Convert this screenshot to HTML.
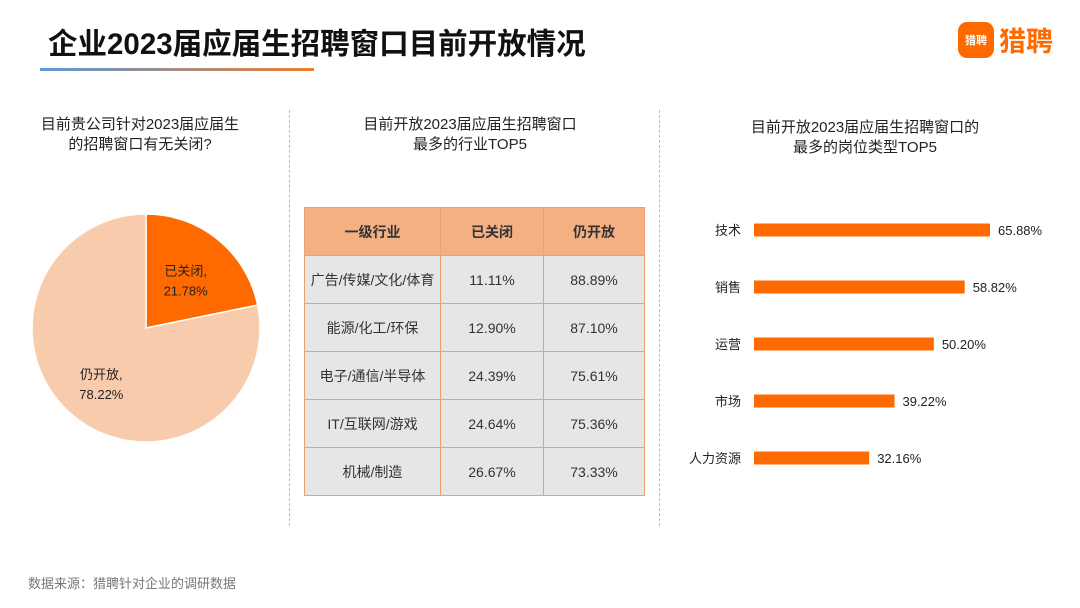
<!DOCTYPE html>
<html><head><meta charset="utf-8"><style>
body{margin:0;background:#fff;font-family:"Liberation Sans","Noto Sans CJK SC",sans-serif;}
#root{position:relative;width:1080px;height:608px;overflow:hidden;}
.abs{position:absolute;}
.sub{position:absolute;text-align:center;font-size:15px;color:#222;line-height:20px;}
table{border-collapse:collapse;position:absolute;left:304px;top:207px;}
td,th{border:1px solid #f0a070;font-size:14px;color:#333;text-align:center;height:47px;padding:0;}
th{background:#f4b083;font-weight:bold;height:47px;}
td{background:#e6e6e6;}
</style></head><body>
<div id="root">
<div class="abs" style="left:48px;top:21px;font-size:29.5px;font-weight:bold;color:#111;">企业2023届应届生招聘窗口目前开放情况</div>
<div class="abs" style="left:40px;top:68px;width:274px;height:3px;background:linear-gradient(90deg,#5b9bd5,#ed7d31);"></div>
<div class="abs" style="left:958px;top:20px;display:flex;align-items:center;">
 <div style="width:36px;height:36px;border-radius:9px;background:#ff6a00;color:#fff;font-size:11px;display:flex;align-items:center;justify-content:center;font-weight:bold;">猎聘</div>
 <span style="color:#ff6a00;font-size:27px;font-weight:bold;margin-left:5px;">猎聘</span></div>
<div class="abs" style="left:289px;top:110px;height:416px;border-left:1px dashed #bbb;"></div>
<div class="abs" style="left:659px;top:110px;height:416px;border-left:1px dashed #bbb;"></div>
<div class="sub" style="left:10px;top:115px;width:260px;">目前贵公司针对2023届应届生<br>的招聘窗口有无关闭?</div>
<div class="sub" style="left:320px;top:115px;width:300px;">目前开放2023届应届生招聘窗口<br>最多的行业TOP5</div>
<div class="sub" style="left:700px;top:118px;width:330px;">目前开放2023届应届生招聘窗口的<br>最多的岗位类型TOP5</div>
<svg id="pie" class="abs" style="left:0;top:0" width="300" height="460"></svg>
<table>
<tr><th style="width:135px">一级行业</th><th style="width:102px">已关闭</th><th style="width:100px">仍开放</th></tr>
<tr><td>广告/传媒/文化/体育</td><td>11.11%</td><td>88.89%</td></tr>
<tr><td>能源/化工/环保</td><td>12.90%</td><td>87.10%</td></tr>
<tr><td>电子/通信/半导体</td><td>24.39%</td><td>75.61%</td></tr>
<tr><td>IT/互联网/游戏</td><td>24.64%</td><td>75.36%</td></tr>
<tr><td>机械/制造</td><td>26.67%</td><td>73.33%</td></tr>
</table>
<svg id="bars" class="abs" style="left:660px;top:200px" width="420" height="290"></svg>
<div class="abs" style="left:28px;top:573px;font-size:13px;color:#777;">数据来源：猎聘针对企业的调研数据</div>
</div>
<script>
const pieLabels=["已关闭","仍开放"];
const pieValues=[21.78,78.22];
const barCats=["技术","销售","运营","市场","人力资源"];
const barValues=[65.88,58.82,50.20,39.22,32.16];
const NS="http://www.w3.org/2000/svg";
const pie=document.getElementById('pie');
const cx=146,cy=328,r=114,cols=["#ff6a00","#f8cbad"];
let a0=0;const tot=pieValues.reduce((a,b)=>a+b,0);
pieValues.forEach((v,i)=>{
 const a1=a0+v/tot*2*Math.PI;
 const x0=cx+r*Math.sin(a0),y0=cy-r*Math.cos(a0),x1=cx+r*Math.sin(a1),y1=cy-r*Math.cos(a1);
 const p=document.createElementNS(NS,'path');
 p.setAttribute('d',`M${cx},${cy}L${x0},${y0}A${r},${r} 0 ${a1-a0>Math.PI?1:0} 1 ${x1},${y1}Z`);
 p.setAttribute('fill',cols[i]);p.setAttribute('stroke','#fff');p.setAttribute('stroke-width','1.5');
 
 
 pie.appendChild(p);
 const am=(a0+a1)/2,lr=i==0?r*0.55:r*0.62;
 const lx=cx+lr*Math.sin(am),ly=cy-lr*Math.cos(am);
 [pieLabels[i]+",",v.toFixed(2)+"%"].forEach((s,k)=>{
  const t=document.createElementNS(NS,'text');
  t.setAttribute('x',lx);t.setAttribute('y',ly-4+k*20);t.setAttribute('text-anchor','middle');
  t.setAttribute('font-size','13');t.setAttribute('fill','#222');t.textContent=s;
  
  
  pie.appendChild(t);});
 a0=a1;});
const bars=document.getElementById('bars');
const x0=94,sc=236/65.88;
barCats.forEach((c,i)=>{
 const yc=30+i*57;
 const rect=document.createElementNS(NS,'rect');
 rect.setAttribute('x',x0);rect.setAttribute('y',yc-6.5);rect.setAttribute('width',barValues[i]*sc);rect.setAttribute('height',13);rect.setAttribute('fill','#ff6a00');
 
 
 bars.appendChild(rect);
 const t=document.createElementNS(NS,'text');
 t.setAttribute('x',x0-13);t.setAttribute('y',yc+5);t.setAttribute('text-anchor','end');t.setAttribute('font-size','13');t.setAttribute('fill','#222');t.textContent=c;
 
 
 bars.appendChild(t);
 const v=document.createElementNS(NS,'text');
 v.setAttribute('x',x0+barValues[i]*sc+8);v.setAttribute('y',yc+5);v.setAttribute('font-size','13');v.setAttribute('fill','#222');v.textContent=barValues[i].toFixed(2)+"%";
 
 
 bars.appendChild(v);});
</script>
</body></html>
